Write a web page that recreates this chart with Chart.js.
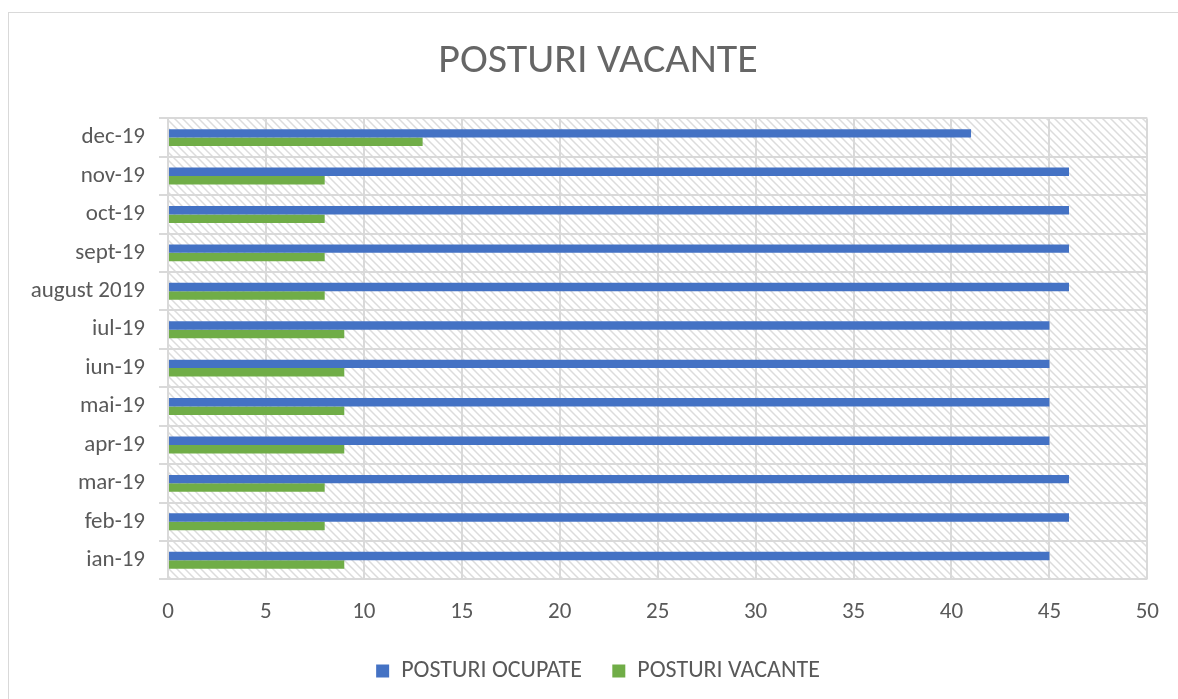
<!DOCTYPE html>
<html>
<head>
<meta charset="utf-8">
<script src="https://cdn.jsdelivr.net/npm/chart.js@4/dist/chart.umd.min.js"></script>
<style>
  html, body { margin: 0; padding: 0; background: #fff; }
  #frame {
    position: absolute;
    left: 8px;
    top: 12px;
    width: 1180px;
    height: 700px;
    border: 1px solid #d9d9d9;
    box-sizing: border-box;
  }
  #wrap { position: absolute; left: 0; top: 0; width: 1178px; height: 699px; }
</style>
</head>
<body>
<div id="frame"></div>
<div id="wrap"><canvas id="chart"></canvas></div>
<script>
const months = [
  "ian-19", "feb-19", "mar-19", "apr-19", "mai-19", "iun-19",
  "iul-19", "august 2019", "sept-19", "oct-19", "nov-19", "dec-19",
];
const ocupate = [45, 46, 46, 45, 45, 45, 45, 46, 46, 46, 46, 41];
const vacante = [9, 8, 8, 9, 9, 9, 9, 8, 8, 8, 8, 13];
const xTicks = [0, 5, 10, 15, 20, 25, 30, 35, 40, 45, 50];

function makeHatch() {
  const tile = document.createElement("canvas");
  tile.width = 8;
  tile.height = 8;
  const t = tile.getContext("2d");
  t.fillStyle = "#ffffff";
  t.fillRect(0, 0, 8, 8);
  t.strokeStyle = "#dcdcdc";
  t.lineWidth = 1.5;
  t.beginPath();
  t.moveTo(0, 0); t.lineTo(8, 8);
  t.moveTo(-4, 4); t.lineTo(4, 12);
  t.moveTo(4, -4); t.lineTo(12, 4);
  t.stroke();
  return tile;
}

const hatchBackground = {
  id: "hatchBackground",
  afterLayout(chart) {
    // the y scale is fitted narrower than its labels; let them draw past its left edge
    chart.scales.y.left = 0;
  },
  beforeDraw(chart) {
    const { ctx, chartArea } = chart;
    const pattern = ctx.createPattern(makeHatch(), "repeat");
    ctx.save();
    ctx.fillStyle = pattern;
    ctx.fillRect(chartArea.left, chartArea.top,
      chartArea.right - chartArea.left, chartArea.bottom - chartArea.top);
    ctx.restore();
  },
};

const gray = "#595959";
const font = "Carlito, Calibri, 'Open Sans', 'Noto Sans', sans-serif";

new Chart(document.getElementById("chart"), {
  type: "bar",
  data: {
    labels: months,
    datasets: [
      {
        label: "POSTURI OCUPATE",
        data: ocupate,
        backgroundColor: "#4472c4",
        categoryPercentage: 0.44,
        barPercentage: 1.0,
      },
      {
        label: "POSTURI VACANTE",
        data: vacante,
        backgroundColor: "#70ad47",
        categoryPercentage: 0.44,
        barPercentage: 1.0,
      },
    ],
  },
  options: {
    indexAxis: "y",
    responsive: true,
    maintainAspectRatio: false,
    animation: false,
    layout: { padding: { left: 47, right: 29, top: 0, bottom: 6 } },
    plugins: {
      title: {
        display: true,
        text: "POSTURI VACANTE",
        color: "#666666",
        font: { family: font, size: 42, weight: "normal" },
        padding: { top: 36, bottom: 32 },
      },
      legend: {
        position: "bottom",
        labels: {
          color: gray,
          font: { family: font, size: 24 },
          boxWidth: 13,
          boxHeight: 13,
          padding: 14,
          generateLabels: (chart) => {
            const items = Chart.defaults.plugins.legend.labels.generateLabels(chart);
            // widen the gap after the first entry without growing the legend height
            items[0].text = items[0].text + "   ";
            return items;
          },
        },
      },
      tooltip: { enabled: false },
    },
    scales: {
      x: {
        min: 0,
        max: 50,
        afterBuildTicks: (axis) => {
          axis.ticks = xTicks.map((v) => ({ value: v }));
        },
        grid: { color: "#d9d9d9", lineWidth: 2, drawTicks: false },
        border: { display: false },
        ticks: {
          color: gray,
          font: { family: font, size: 23 },
          padding: 19,
        },
      },
      y: {
        reverse: true,
        afterFit: (scale) => {
          scale.width = 121;
        },
        grid: { color: "#d9d9d9", lineWidth: 2, tickLength: 9, offset: true },
        border: { color: "#d9d9d9", width: 2 },
        ticks: {
          color: gray,
          font: { family: font, size: 23 },
          padding: 14,
        },
      },
    },
  },
  plugins: [hatchBackground],
});
</script>
</body>
</html>
